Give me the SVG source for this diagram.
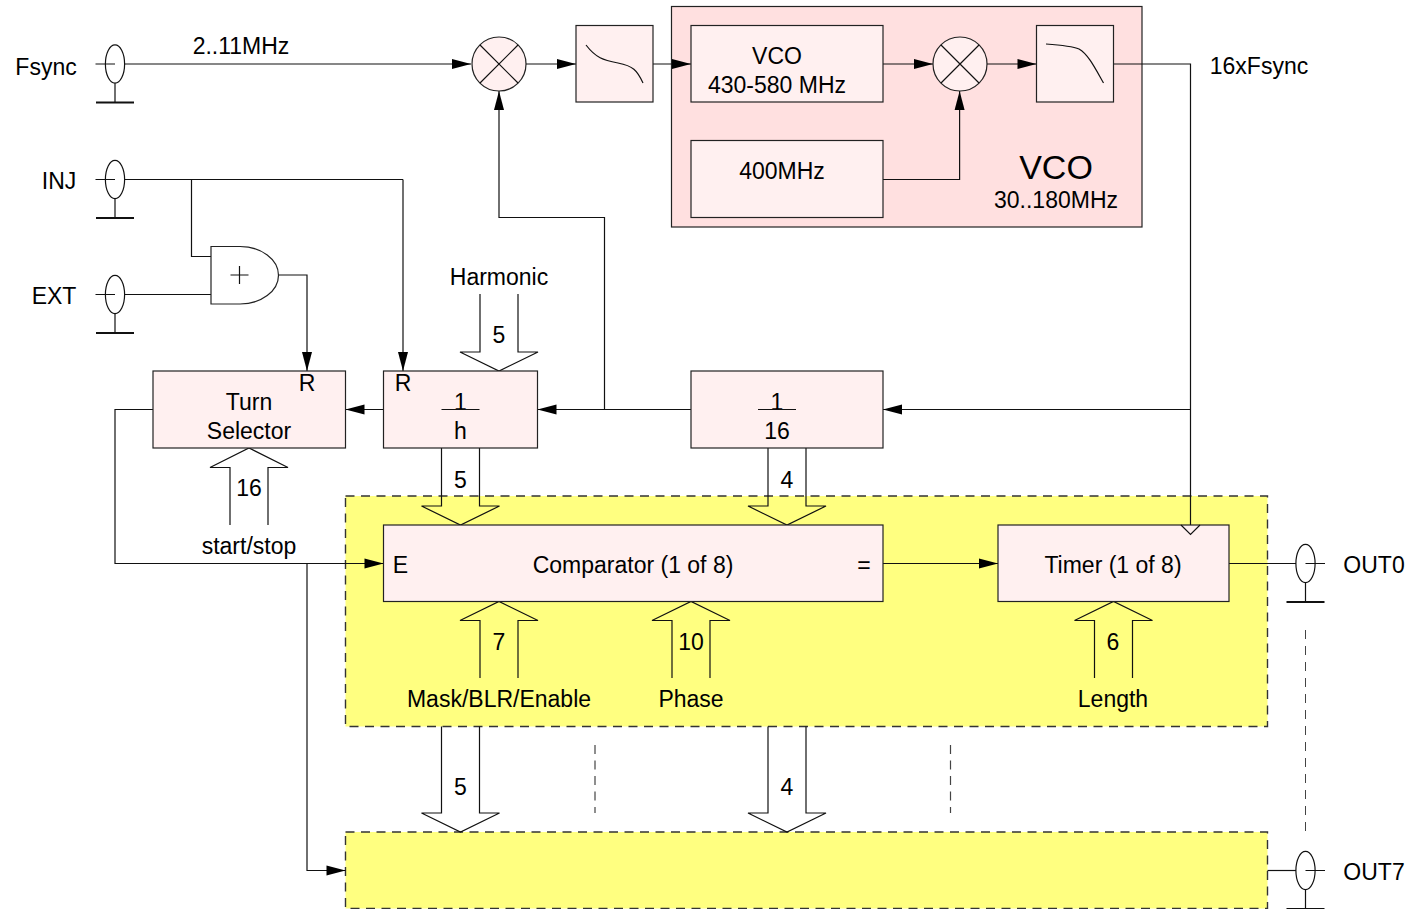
<svg xmlns="http://www.w3.org/2000/svg" width="1409" height="909" viewBox="0 0 1409 909">
<style>
text{font-family:"Liberation Sans",Arial,sans-serif;font-size:23px;fill:#000;text-anchor:middle}
.l{fill:none;stroke:#111;stroke-width:1.2}
.b{fill:#fff0f0;stroke:#222;stroke-width:1.2}
.y{fill:#ffff80;stroke:#333;stroke-width:1.4;stroke-dasharray:9 6.5}
.a{marker-end:url(#ah)}
.d{fill:none;stroke:#444;stroke-width:1.2;stroke-dasharray:9 6.5}
.bus{fill:none;stroke:#111;stroke-width:1.2}
.e{fill:none;stroke:#111;stroke-width:1.2}
.g{fill:none;stroke:#111;stroke-width:2}
</style>
<defs>
<marker id="ah" markerUnits="userSpaceOnUse" markerWidth="20" markerHeight="11" refX="19" refY="5.500" orient="auto" overflow="visible"><path d="M0 .5L19 5.500L0 10.500z" fill="#000"/></marker>
<g id="conn">
<ellipse cx="0" cy="0" rx="9.600" ry="19.200" class="e"/>
<path d="M-19.500 0H0M0 19.200V38.400" class="l"/>
<path d="M-19 38.400H19" class="g"/>
</g>
<g id="connR">
<ellipse cx="0" cy="0" rx="9.600" ry="19.200" class="e"/>
<path d="M0 0H19.500M0 19.200V38.400" class="l"/>
<path d="M-19 38.400H19" class="g"/>
</g>
</defs>
<g id="yellow-0"><rect class="y" x="345.500" y="496" width="922" height="230.500"/></g>
<g id="yellow-7"><rect class="y" x="345.500" y="832" width="922" height="76.500"/></g>
<g id="vco-group">
<rect x="671.500" y="6.500" width="470.500" height="220.500" fill="#ffe0e0" stroke="#222" stroke-width="1.200"/>
<text x="1056" y="179" style="font-size:34px">VCO</text>
<text x="1056" y="208">30..180MHz</text>
</g>
<g id="connectors">
<path class="l a" d="M124.500 64H471"/>
<path class="l a" d="M526 64H576"/>
<path class="l a" d="M653 64H691"/>
<path class="l a" d="M883 64H933"/>
<path class="l a" d="M987 64H1036.500"/>
<path class="l" d="M1113.500 64H1190.500V525"/>
<path class="l a" d="M883 179.500H959.600V91"/>
<path class="l a" d="M604.500 409.500V217.500H499V91"/>
<path class="l" d="M124.500 179.500H403"/>
<path class="l a" d="M403 179.500V371"/>
<path class="l" d="M191.500 179.500V256.500H211"/>
<path class="l" d="M124.500 294.500H211"/>
<path class="l a" d="M278.500 275H307V371"/>
<path class="l a" d="M1190.500 409.500H883"/>
<path class="l a" d="M691 409.500H537.500"/>
<path class="l a" d="M383.500 409.500H345.500"/>
<path class="l a" d="M153 409.500H115V563.500H383.500"/>
<path class="l a" d="M307 563.500V870.500H345.500"/>
<path class="l a" d="M883 563.500H998"/>
<path class="l" d="M1229 563.500H1296"/>
<path class="l" d="M1267.500 870.500H1296"/>
<path class="bus" d="M480 294V352H460L499 371L538 352H518V294"/>
<path class="bus" d="M230 525V467.500H210L249 448L288 467.500H268V525"/>
<path class="bus" d="M441.500 448V506H421.500L460.500 525L499.500 506H479.500V448"/>
<path class="bus" d="M768 448V506H748L787 525L826 506H806V448"/>
<path class="bus" d="M480 678V620.500H460L499 601.500L538 620.500H518V678"/>
<path class="bus" d="M672 678V620.500H652L691 601.500L730 620.500H710V678"/>
<path class="bus" d="M1094.500 678V620.500H1074.500L1113.500 601.500L1152.500 620.500H1132.500V678"/>
<path class="bus" d="M441.500 726.500V813H421.500L460.500 832L499.500 813H479.500V726.500"/>
<path class="bus" d="M768 726.500V813H748L787 832L826 813H806V726.500"/>
<path class="d" d="M595 745V813M950.500 745V813"/>
<path class="d" style="stroke-width:1;stroke-dasharray:9 7" d="M1305.500 630V832"/>
</g>
<g id="fsync"><use href="#conn" x="115" y="64"/><text x="46" y="74.500">Fsync</text><text x="241" y="54">2..11MHz</text></g>
<g id="inj"><use href="#conn" x="115" y="179.500"/><text x="59" y="188.500">INJ</text></g>
<g id="ext"><use href="#conn" x="115" y="294.500"/><text x="54" y="303.500">EXT</text></g>
<g id="out0"><use href="#connR" x="1305.500" y="563.500"/><text x="1374" y="573">OUT0</text></g>
<g id="out7"><use href="#connR" x="1305.500" y="870.500"/><text x="1374" y="880">OUT7</text></g>
<g id="mixer1"><circle class="b" cx="499" cy="64" r="27"/><path class="l" d="M480 45L518 83M518 45L480 83"/></g>
<g id="filter1"><rect class="b" x="576" y="25.500" width="77" height="76.500"/><path class="l" d="M586 45C596 58 603 60 618 63C633 66 637 70 643 83"/></g>
<g id="vco-osc"><rect class="b" x="691" y="25.500" width="192" height="76.500"/><text x="777" y="64">VCO</text><text x="777" y="93">430-580 MHz</text></g>
<g id="mixer2"><circle class="b" cx="960" cy="64" r="27"/><path class="l" d="M941 45L979 83M979 45L941 83"/></g>
<g id="filter2"><rect class="b" x="1036.500" y="25.500" width="77" height="76.500"/><path class="l" d="M1046 44C1060 45 1072 46 1079 49C1088 54 1095 68 1103.500 83"/></g>
<g id="osc400"><rect class="b" x="691" y="140.500" width="192" height="77"/><text x="782" y="179">400MHz</text></g>
<g id="or-gate"><path d="M211 246.500H240A38.500 28.750 0 0 1 240 304H211Z" fill="#fff" stroke="#222" stroke-width="1.200"/><path class="l" d="M230.500 275H248.500M239.500 266V284"/></g>
<g id="harmonic"><text x="499" y="285">Harmonic</text><text x="499" y="343">5</text></g>
<g id="turn-selector"><rect class="b" x="153" y="371" width="192.500" height="77"/><text x="307" y="391">R</text><text x="249" y="409.500">Turn</text><text x="249" y="439">Selector</text></g>
<g id="div-h"><rect class="b" x="383.500" y="371" width="154" height="77"/><text x="403" y="391">R</text><text x="460.500" y="409.500">1</text><path class="l" d="M441.500 409.500H479.500"/><text x="460.500" y="439">h</text></g>
<g id="div-16"><rect class="b" x="691" y="371" width="192" height="77"/><text x="777" y="409.500">1</text><path class="l" d="M758 409.500H796"/><text x="777" y="439">16</text></g>
<g id="comparator"><rect class="b" x="383.500" y="525" width="499.500" height="76.500"/><text x="400.500" y="573">E</text><text x="633" y="573">Comparator (1 of 8)</text><text x="864" y="573">=</text></g>
<g id="timer"><rect class="b" x="998" y="525" width="231" height="76.500"/><text x="1113" y="573">Timer (1 of 8)</text><path class="l" d="M1181 525L1190.500 534.500L1200 525"/></g>
<g id="labels">
<text x="249" y="496">16</text><text x="249" y="554">start/stop</text>
<text x="460.500" y="488">5</text><text x="787" y="488">4</text>
<text x="499" y="650">7</text><text x="691" y="650">10</text><text x="1113" y="650">6</text>
<text x="499" y="707">Mask/BLR/Enable</text><text x="691" y="707">Phase</text><text x="1113" y="707">Length</text>
<text x="460.500" y="795">5</text><text x="787" y="795">4</text>
<text x="1259" y="74">16xFsync</text>
</g>
</svg>
